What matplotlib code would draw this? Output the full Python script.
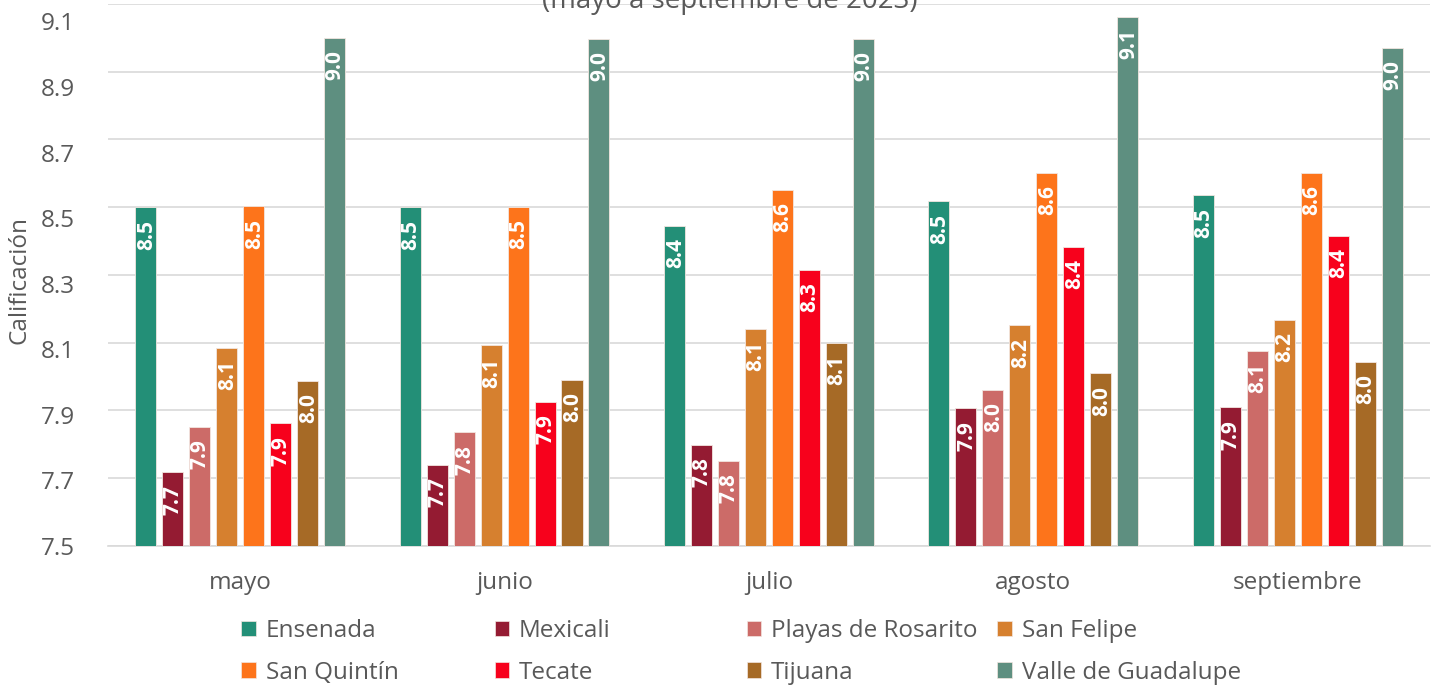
import numpy as np
import matplotlib.pyplot as plt
import matplotlib.transforms as mtransforms
from matplotlib.patches import Patch

plt.rcParams['font.family'] = ['Open Sans', 'DejaVu Sans']

meses = ['mayo', 'junio', 'julio', 'agosto', 'septiembre']
municipios = ['Ensenada', 'Mexicali', 'Playas de Rosarito', 'San Felipe',
              'San Quintín', 'Tecate', 'Tijuana', 'Valle de Guadalupe']
colores = ['#238F77', '#941B32', '#CC6B68', '#D6802F',
           '#FD741B', '#F7011C', '#A66A26', '#5E8F80']

ensenada = [8.50, 8.50, 8.445, 8.517, 8.535]
mexicali = [7.717, 7.739, 7.798, 7.906, 7.909]
playas = [7.852, 7.836, 7.752, 7.961, 8.076]
san_felipe = [8.085, 8.092, 8.141, 8.152, 8.167]
san_quintin = [8.503, 8.502, 8.551, 8.601, 8.602]
tecate = [7.862, 7.925, 8.315, 8.384, 8.416]
tijuana = [7.987, 7.991, 8.10, 8.01, 8.044]
valle = [9.00, 8.997, 8.997, 9.062, 8.97]

series = [ensenada, mexicali, playas, san_felipe, san_quintin, tecate, tijuana, valle]

fig = plt.figure(figsize=(14.4, 6.88), dpi=100)
ax = fig.add_axes([0.075, 0.2064, 0.918, 0.7878])

gris = '#595959'
x = np.arange(len(meses))
step = 0.102
width = 0.0795
base = 7.5
for j, (vals, c) in enumerate(zip(series, colores)):
    pos = x + (j - 3.5) * step
    h = np.array(vals) - base
    ax.bar(pos, h, width, bottom=base, color=c, edgecolor='#f2e6e0',
           linewidth=0.6, zorder=3)
    for p, v in zip(pos, vals):
        ax.annotate(f'{v:.1f}', (p, v), xytext=(0.5, -9), textcoords='offset points',
                    rotation=90, ha='center', va='top', color='white',
                    fontsize=15, fontweight='bold', zorder=4)

yt = np.arange(7.5, 9.11, 0.2)
ax.set_xlim(-0.5, 4.5)
ax.set_ylim(7.5, 9.1)
ax.set_yticks(yt)
ax.set_yticklabels([f'{t:.1f}' for t in yt])
ax.set_xticks(x)
ax.set_xticklabels(meses)
ax.tick_params(axis='both', length=0, labelsize=17.5, colors=gris)
ax.tick_params(axis='y', pad=24)
ax.tick_params(axis='x', pad=18)
ax.grid(axis='y', color='#d9d9d9', linewidth=1.2, zorder=0)
for s in ['top', 'right', 'left']:
    ax.spines[s].set_visible(False)
ax.spines['bottom'].set_color('#d9d9d9')
ax.spines['bottom'].set_linewidth(1.2)

# the value labels sit a little lower than their gridlines, more so near the top
for t, lbl in zip(yt, ax.get_yticklabels()):
    dy = 12.5 * (t - 7.5) / 1.6
    lbl.set_transform(lbl.get_transform() +
                      mtransforms.ScaledTranslation(0, -dy / 72, fig.dpi_scale_trans))

ax.set_ylabel('Calificación', fontsize=17.5, color=gris)
ax.yaxis.set_label_coords(-0.058, 0.49)

fig.text(0.507, 0.988, '(mayo a septiembre de 2023)', ha='center', va='baseline',
         fontsize=20, color=gris)

# legend in 4 columns at fixed positions
col_x = [0.1675, 0.3435, 0.5185, 0.6925]
for k in range(4):
    hs = [Patch(facecolor=colores[k], edgecolor='#f2e6e0', linewidth=0.5),
          Patch(facecolor=colores[k + 4], edgecolor='#f2e6e0', linewidth=0.5)]
    fig.legend(hs, [municipios[k], municipios[k + 4]], loc='upper left',
               bbox_to_anchor=(col_x[k], 0.1), frameon=False,
               fontsize=17.5, labelcolor=gris, handlelength=0.6, handleheight=0.6,
               handletextpad=0.4, labelspacing=0.72, borderaxespad=0, borderpad=0)

fig.savefig('out.png', dpi=100)
